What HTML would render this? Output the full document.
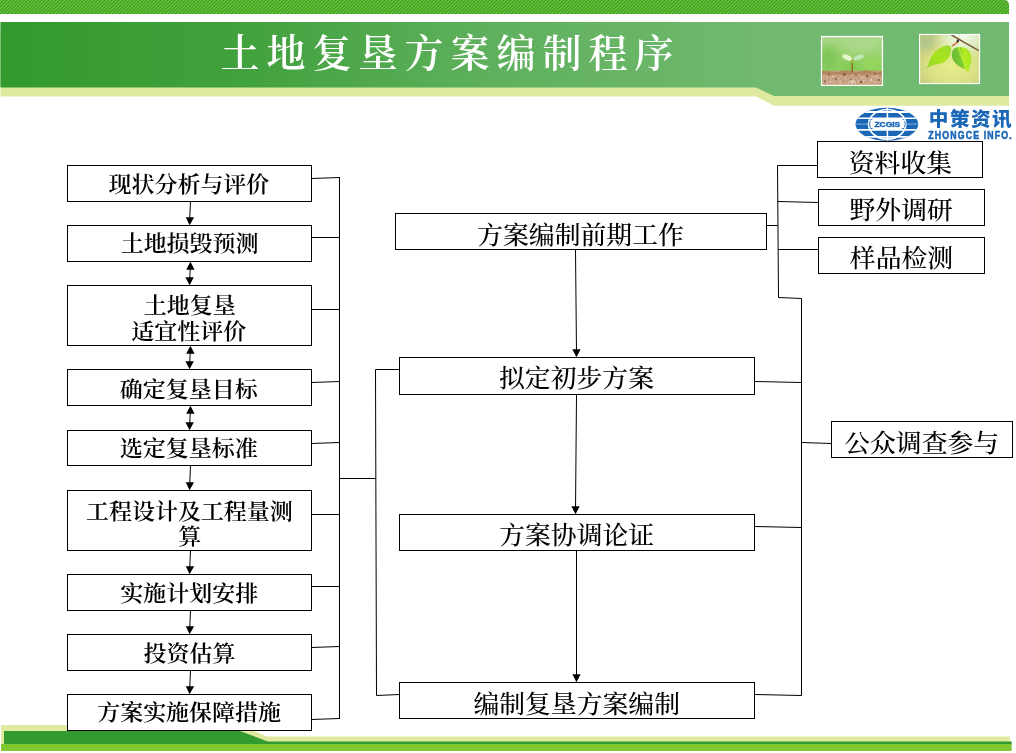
<!DOCTYPE html>
<html lang="zh-CN"><head><meta charset="utf-8"><title>土地复垦方案编制程序</title>
<style>
html,body{margin:0;padding:0;background:#fff;}
body{width:1016px;height:753px;position:relative;overflow:hidden;}
svg{position:absolute;left:0;top:0;display:block;will-change:transform;}
text{font-family:"Liberation Serif","Noto Serif CJK SC",serif;text-anchor:middle;fill:#000;}
.tl{font-size:21.9px;font-weight:600;letter-spacing:0px;}
.tm{font-size:24.6px;font-weight:500;letter-spacing:0px;}
.title{font-size:39px;font-weight:600;fill:#fff;letter-spacing:7px;}
.lcn{font-family:"Liberation Sans","Noto Sans CJK SC",sans-serif;font-weight:900;font-size:19.6px;letter-spacing:1.5px;fill:#1a67b8;text-anchor:start;}
.len{font-family:"Liberation Sans",sans-serif;font-weight:700;font-size:10.2px;fill:#1a67b8;text-anchor:start;}
.lz{font-family:"Liberation Sans",sans-serif;font-weight:700;font-size:7.4px;fill:#1a67b8;text-anchor:middle;}
</style></head><body>
<svg width="1016" height="753" viewBox="0 0 1016 753">
<defs>
<pattern id="hatch" width="3.5" height="3.5" patternUnits="userSpaceOnUse">
<rect width="3.5" height="3.5" fill="#7fcc33"/>
<path d="M-1,1 L1,-1 M-1,4.5 L4.5,-1 M2.5,4.5 L4.5,2.5" stroke="#2c972a" stroke-width="1.32"/>
</pattern>
<linearGradient id="hg" x1="0" x2="1" y1="0" y2="0">
<stop offset="0" stop-color="#33992e"/><stop offset="0.25" stop-color="#42a23e"/><stop offset="0.5" stop-color="#60b15e"/><stop offset="0.75" stop-color="#70b96f"/><stop offset="1" stop-color="#72ba72"/>
</linearGradient>
<linearGradient id="p1bg" x1="0" x2="0" y1="0" y2="1">
<stop offset="0" stop-color="#a9d688"/><stop offset="0.35" stop-color="#9bd273"/><stop offset="0.75" stop-color="#8bcf5a"/><stop offset="1" stop-color="#90d55a"/>
</linearGradient>
<linearGradient id="soil" x1="0" x2="0" y1="0" y2="1">
<stop offset="0" stop-color="#b98a63"/><stop offset="0.5" stop-color="#c29774"/><stop offset="1" stop-color="#c9a283"/>
</linearGradient>
<radialGradient id="p2bg" cx="0.55" cy="0.62" r="0.75">
<stop offset="0" stop-color="#e6ed8a"/><stop offset="0.55" stop-color="#dae085"/><stop offset="1" stop-color="#bfc678"/>
</radialGradient>
<radialGradient id="p2hl" cx="0.72" cy="0.0" r="0.55">
<stop offset="0" stop-color="#f4fcf0" stop-opacity="1"/><stop offset="0.5" stop-color="#e6f5d8" stop-opacity="0.75"/><stop offset="1" stop-color="#e0f0c0" stop-opacity="0"/>
</radialGradient>
<linearGradient id="leafL" x1="1" x2="0" y1="0" y2="1">
<stop offset="0" stop-color="#9bdc2c"/><stop offset="0.5" stop-color="#a8e41e"/><stop offset="1" stop-color="#8ed830"/>
</linearGradient>
<linearGradient id="leafR" x1="0" x2="1" y1="0.2" y2="0">
<stop offset="0" stop-color="#66bd33"/><stop offset="0.45" stop-color="#7fcc2e"/><stop offset="0.55" stop-color="#b2ec22"/><stop offset="1" stop-color="#a5e428"/>
</linearGradient>
<filter id="b05" x="-20%" y="-20%" width="140%" height="140%"><feGaussianBlur stdDeviation="0.5"/></filter>
<filter id="b1" x="-30%" y="-30%" width="160%" height="160%"><feGaussianBlur stdDeviation="1.2"/></filter>
<filter id="b3" x="-50%" y="-50%" width="200%" height="200%"><feGaussianBlur stdDeviation="3.5"/></filter>
<clipPath id="c1"><rect x="822.2" y="37.2" width="59.6" height="47.5"/></clipPath>
<clipPath id="c2"><rect x="920.2" y="35.1" width="58.7" height="47.8"/></clipPath>
<clipPath id="cg"><ellipse cx="886.9" cy="124.3" rx="31.4" ry="16.5"/></clipPath>
<filter id="noise" x="0" y="0" width="100%" height="100%"><feTurbulence type="fractalNoise" baseFrequency="0.55" numOctaves="2" seed="7" result="n"/><feColorMatrix in="n" type="matrix" values="0 0 0 0 0.55  0 0 0 0 0.36  0 0 0 0 0.25  1.7 0 0 0 -0.5"/><feGaussianBlur stdDeviation="0.35"/></filter>
<filter id="noise2" x="0" y="0" width="100%" height="100%"><feTurbulence type="fractalNoise" baseFrequency="0.6" numOctaves="2" seed="23" result="n"/><feColorMatrix in="n" type="matrix" values="0 0 0 0 0.93  0 0 0 0 0.84  0 0 0 0 0.76  0 1.8 0 0 -0.9"/><feGaussianBlur stdDeviation="0.35"/></filter>

</defs>
<!-- header -->
<path d="M0,0 H1004 Q1009,0 1009,5 V13.9 H0 Z" fill="url(#hatch)"/>
<path d="M0.5,31 H1009 V105.8 H774 L756,96.4 H0.5 Z" fill="#dfe99f"/>
<path d="M0.4,21.9 H1009 V96 H774 L756,87.5 H0.4 Z" fill="url(#hg)"/>
<text class="title" x="450.5" y="66.8">土地复垦方案编制程序</text>
<!-- footer -->
<path d="M1,725 H240 L267,736.4 H1010 V744 H1 Z" fill="#dfe99f"/>
<path d="M4,731 H240 L267.7,741.4 H1011.7 V744.5 H4 Z" fill="#329a2e"/>
<rect x="1" y="744" width="1010.7" height="7" fill="#7fc832"/>
<!-- photo 1 : sprout -->
<rect x="820.9" y="35.9" width="62.2" height="50.1" fill="#fff"/>
<g clip-path="url(#c1)">
<rect x="822" y="37" width="60" height="48" fill="url(#p1bg)"/>
<g filter="url(#b3)">
<ellipse cx="829" cy="58" rx="9" ry="12" fill="#7fc657"/>
<ellipse cx="862" cy="44" rx="16" ry="7" fill="#acd98a"/>
<ellipse cx="872" cy="64" rx="10" ry="6" fill="#93d75a"/>
<ellipse cx="850" cy="66" rx="10" ry="4" fill="#7dc94e"/>
</g>
<rect x="822" y="70.8" width="60" height="14" fill="url(#soil)"/>
<rect x="822" y="71.5" width="60" height="13.3" filter="url(#noise)"/>
<rect x="822" y="71.5" width="60" height="13.3" filter="url(#noise2)"/>
<g filter="url(#b05)">
<path d="M822,71.5 q5,-1.2 10,0 t10,-0.3 t10,0.2 t10,-0.2 t10,0.3 t10,0 v3 h-60z" fill="#b58560"/>
<g fill="#8a5c40">
<circle cx="844.5" cy="74.2" r="1.5"/><circle cx="867.3" cy="76.3" r="1.3"/><circle cx="836.2" cy="79" r="1"/><circle cx="829" cy="74.5" r="1.1"/><circle cx="861" cy="82" r="1.2"/><circle cx="875" cy="73.5" r="0.9"/><circle cx="850.5" cy="79.5" r="0.8"/><circle cx="879" cy="80" r="1"/><circle cx="825" cy="81.5" r="1"/><circle cx="856" cy="75" r="0.8"/>
</g>
<g fill="#e3c9b0">
<ellipse cx="852.5" cy="81.6" rx="2.6" ry="1.3"/><circle cx="833" cy="76.5" r="1.1"/><circle cx="871" cy="80" r="1.2"/><circle cx="840" cy="82.5" r="1"/><circle cx="862" cy="77.8" r="0.9"/><circle cx="826.5" cy="77.3" r="0.9"/><circle cx="877" cy="76.5" r="0.8"/>
</g>
</g>
<g filter="url(#b05)">
<path d="M851.4,72.5 L851.7,60 L853.1,60 L852.9,72.5z" fill="#8f6a22"/>
<path d="M851.6,63 L851.8,58.6 L853,58.6 L853,63z" fill="#a9b23a"/>
<ellipse cx="847.2" cy="57.5" rx="5.1" ry="2.5" transform="rotate(24 847.2 57.5)" fill="#e3f6cc"/>
<ellipse cx="858.6" cy="57.4" rx="5.3" ry="2.3" transform="rotate(-19 858.6 57.4)" fill="#c4ecc0" fill-opacity="0.9"/>
</g>
</g>
<!-- photo 2 : leaves -->
<rect x="919" y="33.9" width="61.1" height="50.2" fill="#fff"/>
<g clip-path="url(#c2)">
<rect x="920" y="35" width="59" height="48" fill="url(#p2bg)"/>
<rect x="920" y="35" width="59" height="48" fill="url(#p2hl)"/>
<ellipse cx="926" cy="42" rx="9" ry="9" fill="#b3c68c" filter="url(#b3)"/>
<g filter="url(#b05)">
<path d="M951.2,34.6 C958,39 968,44.5 979,50.6" stroke="#735236" stroke-width="1.3" fill="none"/>
<path d="M958.3,39.6 L957.2,42.6" stroke="#2e2216" stroke-width="1.9" fill="none"/>
<path d="M957.3,42.2 C955.5,43.8 953.8,45 951.8,45.9" stroke="#d0623a" stroke-width="1.5" fill="none"/>
<path d="M950.7,46.5 C948.5,44.9 944,45 936.7,50.2 C931,55 929.5,61 928.5,64.2 C927.5,66.5 926.3,68 925.2,69.2 C928,67 931,65.6 933.4,65 C938,64.3 941.5,63.8 944.5,61.8 C948,59.5 950.6,55.5 951.1,50.2 C951.3,48.5 951.1,47.3 950.7,46.5z" fill="url(#leafL)"/>
<path d="M957.7,47.3 C955.8,47.4 954.2,48.2 953.2,49.4 C951.9,51.5 951.5,53.6 951.9,56 C952.4,58.8 953.4,60.8 954.8,62.6 C956.6,64.8 959,66.4 961.4,67.5 C963.5,68.5 965.2,69.2 966.3,70 C967.1,70.8 967.6,71.8 968,72.9 C968.8,70.8 969.3,68.8 969.6,66.7 C970.6,64.5 971.3,62 971.4,59.3 C971.5,56.5 970.9,54 969.6,51.9 C968.4,50 966.8,48.7 964.7,47.8 C963,47.1 961.3,46.9 959.7,46.9z" fill="url(#leafR)"/>
<path d="M957.7,47.3 C959.5,55 963.5,64 968,72.9 C966,65 962.5,55.5 959.7,46.9z" fill="#c9f43a" fill-opacity="0.65"/>
</g>
</g>

<!-- logo -->
<g clip-path="url(#cg)">
<rect x="854" y="106" width="66" height="36" fill="#1a67b8"/>
<g stroke="#fff" fill="none">
<line x1="854" x2="920" y1="112.0" y2="112.0" stroke-width="1.9"/>
<line x1="854" x2="920" y1="118.2" y2="118.2" stroke-width="1.5"/>
<line x1="854" x2="920" y1="129.9" y2="129.9" stroke-width="1.9"/>
<line x1="854" x2="920" y1="136.8" y2="136.8" stroke-width="1.8"/>
<line x1="854" x2="920" y1="124.1" y2="124.1" stroke-width="0.9" stroke="#8db6e0"/>
<line x1="887.4" x2="887.4" y1="106" y2="142" stroke-width="1.5"/>
<ellipse cx="887.2" cy="124.3" rx="18.6" ry="14.8" stroke-width="1.7"/>
</g>
<rect x="869.2" y="118.9" width="36.4" height="10.1" rx="5" ry="5" fill="#fff"/>
<path d="M870.2,121.3 Q868.8,124.1 870.2,126.9 M904.6,121.3 Q906,124.1 904.6,126.9" stroke="#1a67b8" stroke-width="0.9" fill="none"/>
</g>
<text class="lz" x="887.3" y="126.7" textLength="25.6" lengthAdjust="spacingAndGlyphs" stroke="#1a67b8" stroke-width="0.45">ZCGIS</text>
<text class="lcn" x="928.8" y="125.6">中策资讯</text>
<g transform="translate(928.3,138.8) scale(0.86,1)"><text class="len" x="0" y="0" textLength="97" lengthAdjust="spacing" stroke="#1a67b8" stroke-width="0.55">ZHONGCE INFO.</text></g>

<!-- flow chart boxes -->
<g fill="#fff" stroke="#000" stroke-width="1">
<rect x="67.5" y="165.5" width="244.0" height="36.0"/>
<rect x="67.5" y="225.5" width="244.0" height="36.0"/>
<rect x="67.5" y="285.5" width="244.0" height="60.0"/>
<rect x="67.5" y="369.5" width="244.0" height="36.0"/>
<rect x="67.5" y="430.5" width="244.0" height="35.0"/>
<rect x="67.5" y="490.5" width="244.0" height="60.0"/>
<rect x="67.5" y="574.5" width="244.0" height="36.0"/>
<rect x="67.5" y="634.5" width="244.0" height="36.0"/>
<rect x="67.5" y="694.5" width="244.0" height="36.0"/>
<rect x="395.5" y="213.5" width="371.0" height="36.0"/>
<rect x="399.5" y="357.5" width="355.0" height="37.0"/>
<rect x="399.5" y="514.5" width="355.0" height="36.0"/>
<rect x="399.5" y="682.5" width="355.0" height="36.0"/>
<rect x="817.5" y="141.5" width="165.0" height="36.0"/>
<rect x="818.5" y="189.5" width="166.0" height="36.0"/>
<rect x="818.5" y="237.5" width="166.0" height="36.0"/>
<rect x="831.5" y="421.5" width="181.0" height="36.0"/>
</g>
<g stroke="#000" stroke-width="1" fill="none">
<line x1="190.5" y1="201.5" x2="189.6" y2="221.5"/>
<line x1="190.4" y1="265.5" x2="189.6" y2="281.5"/>
<line x1="190.4" y1="349.5" x2="189.6" y2="365.5"/>
<line x1="190.4" y1="409.5" x2="189.6" y2="426.5"/>
<line x1="190.5" y1="465.5" x2="189.6" y2="486.5"/>
<line x1="190.5" y1="550.5" x2="189.6" y2="570.5"/>
<line x1="190.5" y1="610.5" x2="189.6" y2="630.5"/>
<line x1="190.5" y1="670.5" x2="189.6" y2="690.5"/>
<line x1="339.5" y1="177" x2="339.5" y2="719"/>
<line x1="311.5" y1="178.5" x2="339.5" y2="177.5"/>
<line x1="311.5" y1="237.5" x2="339.5" y2="237.5"/>
<line x1="311.5" y1="309.5" x2="339.5" y2="309.5"/>
<line x1="311.5" y1="382.5" x2="339.5" y2="381.5"/>
<line x1="311.5" y1="443.5" x2="339.5" y2="442.5"/>
<line x1="311.5" y1="514.5" x2="339.5" y2="514.5"/>
<line x1="311.5" y1="586.5" x2="339.5" y2="586.5"/>
<line x1="311.5" y1="647.5" x2="339.5" y2="646.5"/>
<line x1="311.5" y1="719.5" x2="339.5" y2="718.5"/>
<line x1="339.5" y1="478.5" x2="375.5" y2="478.5"/>
<polyline points="399.5,369.5 375.5,369.5 376.5,695.5 399.5,694.5"/>
<line x1="575.5" y1="249.5" x2="576.5" y2="353.5"/>
<line x1="576.5" y1="394.5" x2="575.5" y2="510.5"/>
<line x1="576.5" y1="550.5" x2="576.5" y2="678.5"/>
<line x1="766.5" y1="225.5" x2="777.8" y2="225.5"/>
<polyline points="817.5,165.5 777.5,165.5 778.5,297.5 801.5,298.5 801.5,695.5 754.5,694.5"/>
<line x1="777.7" y1="201.5" x2="818.5" y2="202.5"/>
<line x1="778.2" y1="249.5" x2="818.5" y2="249.5"/>
<line x1="754.5" y1="381.5" x2="801.5" y2="382.5"/>
<line x1="801.5" y1="442.5" x2="831.5" y2="443.5"/>
<line x1="754.5" y1="526.5" x2="801.5" y2="527.5"/>
</g>
<g fill="#000" stroke="none">
<polygon points="185.8,217.2 194.1,217.2 189.6,225.2"/>
<polygon points="186.2,269.8 194.6,269.8 190.4,261.8"/>
<polygon points="185.4,277.2 193.8,277.2 189.6,285.2"/>
<polygon points="186.2,353.8 194.6,353.8 190.4,345.8"/>
<polygon points="185.4,361.2 193.8,361.2 189.6,369.2"/>
<polygon points="186.2,413.8 194.6,413.8 190.4,405.8"/>
<polygon points="185.4,422.2 193.8,422.2 189.6,430.2"/>
<polygon points="185.7,482.2 194.0,482.2 189.6,490.2"/>
<polygon points="185.8,566.2 194.1,566.2 189.6,574.2"/>
<polygon points="185.8,626.2 194.1,626.2 189.6,634.2"/>
<polygon points="185.8,686.2 194.1,686.2 189.6,694.2"/>
<polygon points="572.3,349.2 580.6,349.2 576.5,357.2"/>
<polygon points="571.4,506.2 579.7,506.2 575.5,514.2"/>
<polygon points="572.4,674.2 580.6,674.2 576.5,682.2"/>
</g>
<g>
<text class="tl" transform="translate(188.90,192.26) scale(1.05,1)">现状分析与评价</text>
<text class="tl" transform="translate(189.60,251.26) scale(1.05,1)">土地损毁预测</text>
<text class="tl" transform="translate(189.80,312.56) scale(1.05,1)">土地复垦</text>
<text class="tl" transform="translate(188.80,339.46) scale(1.05,1)">适宜性评价</text>
<text class="tl" transform="translate(188.70,396.86) scale(1.05,1)">确定复垦目标</text>
<text class="tl" transform="translate(188.70,456.26) scale(1.05,1)">选定复垦标准</text>
<text class="tl" transform="translate(189.40,519.46) scale(1.05,1)">工程设计及工程量测</text>
<text class="tl" transform="translate(189.70,544.36) scale(1.05,1)">算</text>
<text class="tl" transform="translate(189.30,601.36) scale(1.05,1)">实施计划安排</text>
<text class="tl" transform="translate(189.40,660.76) scale(1.05,1)">投资估算</text>
<text class="tl" transform="translate(189.10,720.16) scale(1.05,1)">方案实施保障措施</text>
<text class="tm" transform="translate(580.50,243.69) scale(1.05,1)">方案编制前期工作</text>
<text class="tm" transform="translate(576.50,387.09) scale(1.05,1)">拟定初步方案</text>
<text class="tm" transform="translate(576.70,543.99) scale(1.05,1)">方案协调论证</text>
<text class="tm" transform="translate(576.70,712.99) scale(1.05,1)">编制复垦方案编制</text>
<text class="tm" transform="translate(900.40,171.89) scale(1.05,1)">资料收集</text>
<text class="tm" transform="translate(901.20,218.89) scale(1.05,1)">野外调研</text>
<text class="tm" transform="translate(901.50,266.59) scale(1.05,1)">样品检测</text>
<text class="tm" transform="translate(921.70,451.69) scale(1.05,1)">公众调查参与</text>
</g>
</svg>
</body></html>
